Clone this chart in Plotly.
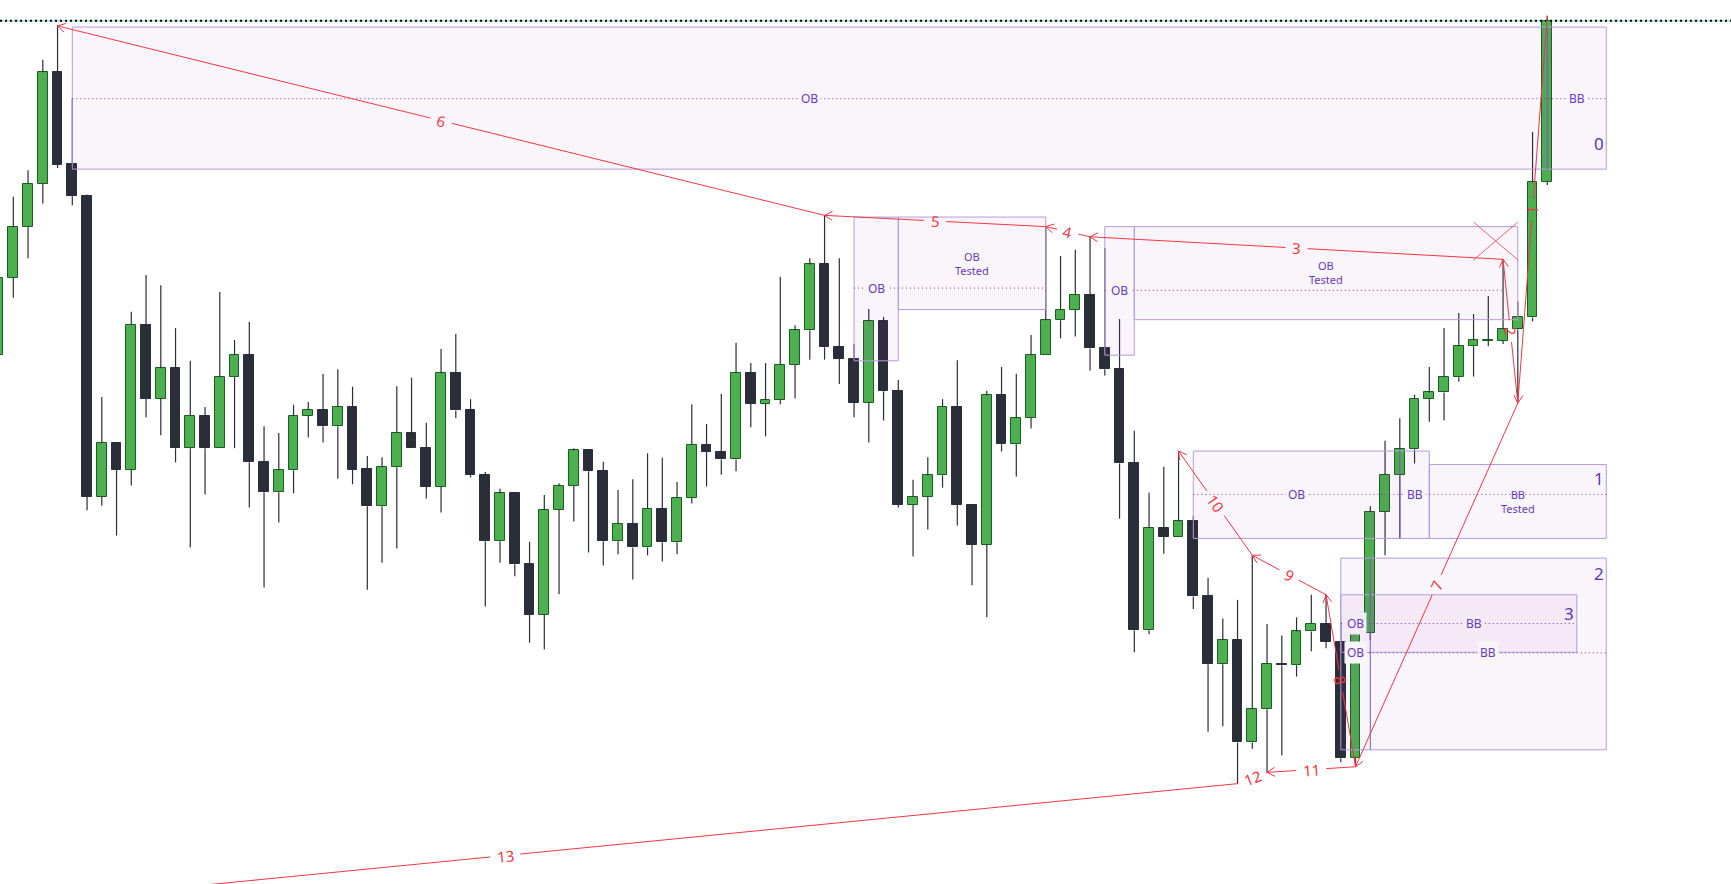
import math
import plotly.graph_objects as go

# ---------------- data (price units) ----------------
candle_idx = list(range(106))
opens = [938, 1075, 1165, 1242, 1440, 1277, 1220, 687, 783, 735,
         992, 861, 915, 773, 830, 773, 899, 938, 748, 695,
         734, 830, 841, 812, 846, 736, 670, 739, 800, 773,
         705, 906, 841, 725, 608, 693, 568, 478, 664, 706,
         769, 732, 608, 639, 597, 666, 606, 685, 779, 767,
         753, 906, 852, 859, 921, 982, 1099, 952, 932, 854,
         998, 874, 673, 687, 725, 846, 673, 602, 867, 780,
         827, 938, 1000, 1019, 1045, 950, 913, 746, 450, 632,
         616, 643, 510, 390, 433, 251, 310, 391, 388, 448,
         462, 430, 223, 446, 660, 726, 771, 861, 872, 899,
         954, 963, 964, 984, 1005, 1245]
highs = [1098, 1219, 1266, 1462, 1523, 1393, 1223, 864, 783, 1015,
         1080, 1062, 986, 928, 846, 1050, 965, 997, 812, 800,
         850, 855, 905, 913, 882, 759, 757, 883, 898, 818,
         949, 976, 860, 731, 701, 693, 607, 690, 711, 773,
         769, 749, 699, 718, 764, 756, 713, 851, 816, 869,
         960, 924, 924, 1077, 991, 1110, 1186, 1110, 958, 1020,
         1006, 894, 717, 757, 860, 929, 673, 875, 917, 905,
         974, 1166, 1114, 1125, 1148, 1128, 1002, 804, 694, 740,
         768, 653, 543, 471, 504, 583, 461, 441, 473, 513,
         513, 465, 458, 670, 786, 826, 868, 917, 986, 1013,
         1011, 1043, 1108, 1033, 1334, 1540]
lows = [918, 1040, 1110, 1207, 1270, 1204, 663, 671, 618, 707,
        828, 796, 748, 597, 691, 773, 773, 668, 526, 641,
        693, 792, 783, 719, 709, 522, 570, 595, 773, 684,
        659, 826, 721, 492, 570, 546, 428, 416, 514, 643,
        588, 565, 585, 540, 583, 572, 585, 675, 705, 726,
        732, 810, 794, 851, 861, 930, 930, 887, 828, 783,
        822, 668, 581, 629, 703, 636, 530, 473, 767, 723,
        808, 938, 968, 971, 911, 902, 648, 411, 443, 586,
        616, 488, 270, 280, 178, 240, 198, 228, 368, 413,
        418, 216, 208, 433, 583, 613, 746, 820, 822, 891,
        900, 954, 958, 853, 998, 1240]
closes = [1075, 1165, 1242, 1440, 1276, 1220, 687, 783, 735, 992,
          861, 915, 773, 830, 773, 899, 938, 748, 695, 734,
          830, 841, 812, 846, 735, 670, 739, 800, 773, 705,
          906, 840, 725, 608, 693, 567, 478, 664, 706, 769,
          732, 608, 639, 597, 666, 606, 685, 779, 767, 753,
          906, 852, 859, 921, 982, 1099, 952, 932, 854, 998,
          874, 673, 687, 725, 846, 673, 602, 867, 780, 827,
          938, 1000, 1019, 1045, 950, 913, 746, 450, 632, 616,
          643, 510, 390, 433, 251, 310, 391, 388, 448, 462,
          430, 223, 446, 660, 726, 771, 861, 872, 899, 954,
          965, 965, 984, 1005, 1245, 1531]

# zones: x0, x1, low, high
zone_x0 = [5, 58, 61, 75, 77, 81, 97, 91, 91]
zone_x1 = [109, 61, 71, 77, 103, 97, 109, 109, 107]
zone_lo = [1268, 928, 1019, 938, 1001, 613, 613, 238, 411]
zone_hi = [1520, 1183, 1183, 1166, 1166, 768, 744, 578, 513]

# zone mid levels: level, x0, x1
mid_level = [1393, 1057, 1053, 691, 410, 462]
mid_x0 = [5, 58, 75, 81, 91, 91]
mid_x1 = [109, 71, 101.9, 109, 109, 107]

# OB -> BB split positions: x, low, high
split_x = [105, 95, 93]
split_lo = [1268, 613, 238]
split_hi = [1520, 768, 578]

# zone text labels: text, x, level, layers of fill under it
zone_text = ["OB", "BB", "OB", "OB<br>Tested", "OB", "OB<br>Tested", "OB", "BB", "BB<br>Tested",
             "OB", "BB", "OB", "BB"]
zone_text_x = [55, 107, 59.5, 66, 76, 90, 88, 96, 103, 92, 101, 92, 100]
zone_text_y = [1393, 1393, 1057, 1101, 1053, 1084, 691, 691, 679, 410, 410, 462, 462]
zone_text_layers = [1, 1, 1, 0, 1, 0, 1, 1, 0, 1, 1, 2, 2]

zone_num = ["0", "1", "2", "3"]
zone_num_x = [108.5, 108.5, 108.5, 106.5]
zone_num_y = [1313, 720, 550, 480]

# swing legs: label, from (x, price), to (x, price), arrow at target
leg_label = ["6", "5", "4", "3", "2", "1", "7", "8", "9", "10", "11", "12", "13"]
leg_x_from = [56, 71, 74, 102, 103, 105, 103, 92, 90, 85, 92, 86, 84]
leg_y_from = [1186, 1166, 1148, 1108, 853, 1540, 853, 208, 513, 583, 208, 198, 178]
leg_x_to = [4, 56, 71, 74, 102, 103, 92, 90, 85, 80, 86, 84, -15.3]
leg_y_to = [1522, 1186, 1166, 1148, 1108, 853, 208, 513, 583, 768, 198, 178, -77]
leg_arrow = [True, True, True, True, True, True, True, True, True, True, True, False, False]

# cross mark
cross_x = [100, 103]
cross_lo = 1107
cross_hi = 1174

last_price = 1531

# ---------------- styling ----------------
W, H = 1731, 884
X_LO, X_HI = 0.0983, 117.454
Y_LO, Y_HI = 0, 1568
GREEN = "#4caf50"
GREEN_EDGE = "#1b5e20"
DARK = "#2a2e39"
RED = "#f23645"
PURPLE = "#673ab7"
BORDER = "#b39ddb"
SPLIT = "#7e57c2"
FILL = "rgba(156,39,176,0.05)"
BG1 = "rgb(250,245,251)"
BG2 = "rgb(245,235,247)"
FONT = "Noto Sans"


def to_px(x, y):
    return ((x - X_LO) / (X_HI - X_LO) * W, (Y_HI - y) / (Y_HI - Y_LO) * H)


def to_data(px, py):
    return (X_LO + px / W * (X_HI - X_LO), Y_HI - py / H * (Y_HI - Y_LO))


fig = go.Figure()

# wicks (split above/below body so they never cross the body)
wx, wy = [], []
for i in candle_idx:
    top = max(opens[i], closes[i])
    bot = min(opens[i], closes[i])
    if highs[i] > top:
        wx += [i, i, None]
        wy += [highs[i], top, None]
    if lows[i] < bot:
        wx += [i, i, None]
        wy += [bot, lows[i], None]
fig.add_trace(go.Scatter(x=wx, y=wy, mode="lines", line=dict(color=DARK, width=1.2),
                         hoverinfo="skip", showlegend=False))

base = [min(o, c) for o, c in zip(opens, closes)]
height = [max(abs(c - o), 2) for o, c in zip(opens, closes)]
fill = [GREEN if c >= o else DARK for o, c in zip(opens, closes)]
edge = [GREEN_EDGE if c >= o else DARK for o, c in zip(opens, closes)]
fig.add_trace(go.Bar(x=candle_idx, y=height, base=base, width=0.66,
                     marker=dict(color=fill, line=dict(color=edge, width=1)),
                     hoverinfo="skip", showlegend=False))

shapes = []
# price line
shapes.append(dict(type="line", xref="x", yref="y", x0=X_LO, x1=X_HI, y0=last_price, y1=last_price,
                   line=dict(color="rgba(38,166,154,0.6)", width=1), layer="above"))
shapes.append(dict(type="line", xref="x", yref="y", x0=X_LO, x1=X_HI, y0=last_price, y1=last_price,
                   line=dict(color="#000000", width=2, dash="2px,3px"), layer="above"))

for x0, x1, lo, hi in zip(zone_x0, zone_x1, zone_lo, zone_hi):
    shapes.append(dict(type="rect", xref="x", yref="y", x0=x0, x1=x1, y0=lo, y1=hi,
                       fillcolor=FILL, line=dict(color=BORDER, width=1), layer="above"))
for x, lo, hi in zip(split_x, split_lo, split_hi):
    shapes.append(dict(type="line", xref="x", yref="y", x0=x, x1=x, y0=lo, y1=hi,
                       line=dict(color=SPLIT, width=1), layer="above"))
for lv, x0, x1 in zip(mid_level, mid_x0, mid_x1):
    shapes.append(dict(type="line", xref="x", yref="y", x0=x0, x1=x1, y0=lv, y1=lv,
                       line=dict(color=PURPLE, width=1, dash="1px,3px"), layer="above"))

annotations = []
for t, x, y, lay in zip(zone_text, zone_text_x, zone_text_y, zone_text_layers):
    a = dict(x=x, y=y, xref="x", yref="y", text=t, showarrow=False,
             font=dict(family=FONT, size=12 if lay else 11, color=PURPLE), borderpad=2)
    if lay == 1:
        a["bgcolor"] = BG1
    elif lay == 2:
        a["bgcolor"] = BG2
    annotations.append(a)
for t, x, y in zip(zone_num, zone_num_x, zone_num_y):
    annotations.append(dict(x=x, y=y, xref="x", yref="y", text=t, showarrow=False,
                            font=dict(family=FONT, size=17, color="#5e35b1")))

# swing legs with label gaps and open arrow heads
for lab, xa, ya, xb, yb, arr in zip(leg_label, leg_x_from, leg_y_from, leg_x_to, leg_y_to, leg_arrow):
    ax, ay = to_px(xa, ya)
    bx, by = to_px(xb, yb)
    dx, dy = bx - ax, by - ay
    ln = math.hypot(dx, dy)
    ux, uy = dx / ln, dy / ln
    mx, my = (ax + bx) / 2, (ay + by) / 2
    g = 7 + 4 * len(lab)
    p1 = to_data(mx - ux * g, my - uy * g)
    p2 = to_data(mx + ux * g, my + uy * g)
    shapes.append(dict(type="line", xref="x", yref="y", x0=xa, y0=ya, x1=p1[0], y1=p1[1],
                       line=dict(color=RED, width=1), layer="above"))
    shapes.append(dict(type="line", xref="x", yref="y", x0=p2[0], y0=p2[1], x1=xb, y1=yb,
                       line=dict(color=RED, width=1), layer="above"))
    if arr:
        for sgn in (1, -1):
            a = math.radians(30) * sgn
            rx = -(ux * math.cos(a) - uy * math.sin(a))
            ry = -(ux * math.sin(a) + uy * math.cos(a))
            q = to_data(bx + rx * 9, by + ry * 9)
            shapes.append(dict(type="line", xref="x", yref="y", x0=xb, y0=yb, x1=q[0], y1=q[1],
                               line=dict(color=RED, width=1), layer="above"))
    ang = math.degrees(math.atan2(dy, dx))
    while ang > 90:
        ang -= 180
    while ang <= -90:
        ang += 180
    md = to_data(mx, my)
    annotations.append(dict(x=md[0], y=md[1], xref="x", yref="y", text=lab, showarrow=False,
                            textangle=ang, font=dict(family=FONT, size=15, color=RED)))

shapes.append(dict(type="line", xref="x", yref="y", x0=cross_x[0], x1=cross_x[1], y0=cross_hi, y1=cross_lo,
                   line=dict(color="rgba(242,54,69,0.75)", width=1), layer="above"))
shapes.append(dict(type="line", xref="x", yref="y", x0=cross_x[0], x1=cross_x[1], y0=cross_lo, y1=cross_hi,
                   line=dict(color="rgba(242,54,69,0.75)", width=1), layer="above"))

fig.update_layout(
    width=W, height=H,
    margin=dict(l=0, r=0, t=0, b=0),
    paper_bgcolor="white", plot_bgcolor="white",
    xaxis=dict(range=[X_LO, X_HI], visible=False, showgrid=False, zeroline=False, fixedrange=True),
    yaxis=dict(range=[Y_LO, Y_HI], visible=False, showgrid=False, zeroline=False, fixedrange=True),
    shapes=shapes, annotations=annotations,
    showlegend=False, bargap=0,
)

fig.write_html("out.html", config={"displayModeBar": False},
               post_script="document.body.style.margin='0';document.body.style.overflow='hidden';")
